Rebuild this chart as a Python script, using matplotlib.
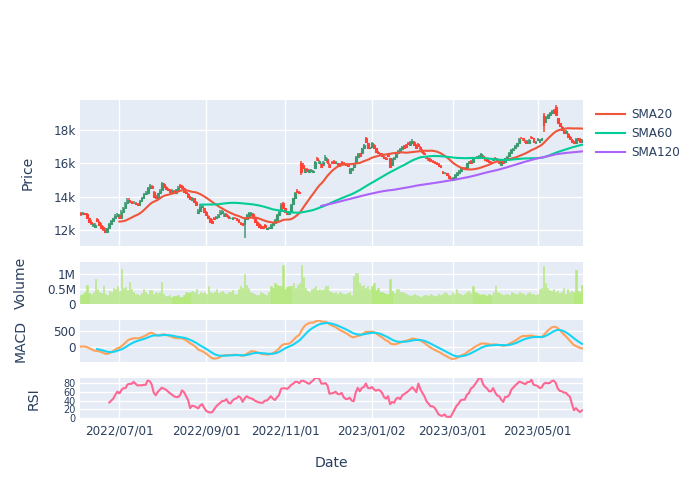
import numpy as np
import pandas as pd
import matplotlib
matplotlib.use('Agg')
import matplotlib.pyplot as plt

# ---------------- data ----------------
open_ = [
    13000,12950,13000,12950,12700,12500,12300,12200,12650,12500,
    12300,12200,12000,11900,12150,12350,12550,12700,12850,12900,
    12750,13100,13350,13600,13800,13700,13600,13650,13550,13500,
    13750,13900,14150,14250,14500,14650,14300,14000,13950,14200,
    14400,14750,14600,14450,14400,14250,14350,14250,14400,14700,
    14650,14500,14300,14150,14000,13800,13900,13700,13000,13150,
    13400,13300,13100,12850,12700,12550,12750,12700,12800,12950,
    13000,12850,12950,12850,12700,12650,12750,12700,12600,12450,
    12400,12350,12650,12800,12900,12950,12700,12500,12350,12250,
    12200,12300,12050,12100,12150,12300,12450,12600,12900,13150,
    13600,13300,13100,12950,13100,13550,13900,14350,14300,16000,
    15900,15500,15650,15500,15550,15500,15700,16300,16000,15950,
    15900,16200,16250,15950,16100,16150,16000,16000,15950,16100,
    16050,15950,15900,15450,15600,15800,16100,16400,16600,16600,
    16900,17500,17200,16900,17000,17100,16900,16700,16600,16550,
    16400,16350,16500,16300,15900,16250,16400,16600,16750,16850,
    17050,17100,17250,17100,17250,17300,17100,17150,17000,16800,
    16650,16400,16300,16250,16150,16100,16050,15950,15850,15500,
    15400,15400,15250,15100,15000,15150,15300,15450,15550,15750,
    15750,15700,16000,16150,16100,16300,16400,16350,16450,16450,
    16300,16250,16150,16100,16200,16350,16250,16150,15900,16150,
    16100,16300,16450,16650,16800,16900,17050,17250,17550,17500,
    17350,17200,17250,17600,17500,17250,17400,17300,17400,18900,
    18500,18700,18900,19000,19200,19400,18700,18400,18200,17950,
    17800,17750,17600,17400,17300,17200,17500,17450,17300]

high = [
    13100,13100,13050,13000,12750,12600,12450,12400,12750,12550,
    12400,12250,12100,12150,12400,12600,12750,12950,13000,12950,
    13200,13400,13700,13900,13900,13750,13750,13700,13600,13800,
    14000,14200,14350,14600,14750,14700,14350,14100,14250,14450,
    14900,14850,14650,14500,14450,14450,14400,14450,14650,14750,
    14700,14550,14350,14200,14050,14000,13950,13750,13250,13500,
    13550,13350,13150,12900,12750,12650,12800,12850,12950,13200,
    13200,13050,13000,12900,12800,12800,12800,12750,12650,12500,
    12450,12700,12950,13100,13100,13000,12750,12550,12400,12300,
    12250,12350,12150,12200,12350,12500,12650,12950,13150,13600,
    13700,13350,13150,13150,13550,13950,14300,14450,14350,16150,
    16000,15750,15700,15650,15650,15600,16150,16400,16200,16000,
    16150,16500,16300,16000,16150,16200,16150,16050,16000,16150,
    16100,16000,15950,15700,15750,16000,16450,16600,16650,16950,
    17150,17600,17250,17000,17300,17150,16950,16750,16650,16600,
    16450,16400,16550,16350,16300,16400,16600,16800,16900,17050,
    17100,17150,17300,17350,17450,17350,17150,17200,17050,16850,
    16700,16450,16350,16300,16200,16150,16100,16000,15900,15550,
    15500,15450,15300,15150,15200,15350,15500,15600,15800,15800,
    15800,16050,16150,16200,16350,16400,16450,16500,16600,16500,
    16350,16300,16200,16150,16350,16400,16300,16200,16150,16200,
    16350,16450,16700,16850,16900,17100,17250,17500,17600,17550,
    17400,17400,17450,17650,17550,17350,17500,17450,17550,19000,
    18850,18950,19100,19200,19250,19500,18750,18450,18250,18000,
    18000,17800,17650,17450,17350,17500,17550,17500,17450]

low = [
    12850,12900,12900,12650,12450,12300,12200,12150,12500,12250,
    12100,11950,11850,11850,12100,12300,12500,12650,12800,12650,
    12700,13050,13300,13550,13650,13550,13550,13500,13450,13450,
    13700,13850,14100,14200,14450,14450,13950,13850,13900,14150,
    14350,14550,14400,14350,14250,14200,14200,14200,14350,14550,
    14500,14250,14150,13950,13800,13750,13650,13450,12950,13100,
    13350,13050,12850,12700,12450,12400,12600,12650,12750,12900,
    12950,12800,12800,12700,12650,12600,12650,12550,12450,12300,
    12250,11550,12600,12750,12850,12700,12450,12250,12150,12100,
    12050,12150,12000,12050,12100,12250,12400,12550,12850,13100,
    13250,13050,12900,12900,13050,13500,13850,14250,14150,15300,
    15650,15450,15500,15450,15500,15450,15650,16150,15950,15750,
    15850,16150,16000,15750,16000,16000,15950,15850,15800,15950,
    15950,15850,15800,15400,15550,15750,16050,16350,16400,16550,
    16850,17250,16850,16850,16950,16850,16650,16550,16500,16400,
    16250,16200,16400,15750,15850,16200,16350,16550,16700,16800,
    16900,16950,17100,17050,17200,17050,16900,17000,16800,16600,
    16500,16250,16150,16100,16050,15950,15900,15800,15750,15350,
    15350,15250,15100,14950,14950,15100,15250,15400,15500,15650,
    15600,15650,15950,16000,16050,16250,16300,16300,16400,16250,
    16150,16100,16050,16000,16150,16200,16100,16000,15850,15950,
    16050,16250,16400,16600,16750,16850,17000,17200,17450,17350,
    17200,17150,17200,17450,17250,17200,17350,17250,17350,17900,
    18450,18650,18850,18950,19000,18850,18400,18200,17950,17800,
    17750,17550,17400,17250,17150,17150,17350,17250,17250]

close = [
    12950,13000,12950,12700,12500,12400,12350,12300,12550,12300,
    12150,12050,11900,12100,12350,12550,12700,12850,12950,12700,
    13100,13350,13600,13800,13700,13600,13650,13550,13500,13750,
    13900,14150,14250,14500,14650,14500,14000,13900,14200,14350,
    14800,14600,14450,14400,14300,14350,14250,14400,14550,14600,
    14550,14300,14200,14000,13850,13900,13700,13500,13150,13400,
    13450,13100,12900,12750,12500,12450,12650,12800,12900,13100,
    13150,12950,12850,12750,12750,12750,12700,12600,12500,12350,
    12300,12650,12900,13000,13000,12750,12500,12300,12200,12150,
    12100,12200,12100,12150,12300,12450,12600,12900,13100,13500,
    13300,13100,12950,13100,13500,13900,14200,14300,14200,15500,
    15700,15650,15550,15600,15600,15550,16100,16200,16150,15800,
    16100,16400,16050,15800,16050,16050,16100,15900,15850,16000,
    16000,15900,15850,15650,15700,15950,16400,16550,16450,16900,
    17100,17300,16900,16950,17250,16900,16700,16600,16550,16450,
    16300,16250,16450,15800,16250,16350,16550,16750,16850,17000,
    16950,17000,17150,17300,17350,17100,16950,17050,16850,16650,
    16550,16300,16200,16150,16100,16000,15950,15850,15800,15400,
    15450,15300,15150,15000,15150,15300,15450,15550,15750,15700,
    15650,16000,16100,16050,16300,16350,16350,16450,16550,16300,
    16200,16150,16100,16050,16300,16250,16150,16050,16100,16000,
    16300,16400,16650,16800,16850,17050,17200,17450,17500,17400,
    17250,17350,17400,17500,17300,17300,17450,17400,17500,18300,
    18800,18900,19050,19150,19050,18900,18450,18250,18000,17850,
    17950,17600,17450,17300,17200,17450,17400,17300,17400]

volume = [
    300000,350000,420000,650000,380000,330000,400000,850000,500000,420000,
    380000,600000,350000,300000,450000,400000,550000,500000,600000,450000,
    1170000,550000,560000,480000,750000,500000,400000,330000,350000,300000,
    380000,500000,420000,350000,480000,470000,330000,400000,380000,420000,
    750000,330000,280000,270000,300000,250000,280000,260000,300000,250000,
    230000,300000,400000,380000,420000,450000,400000,520000,350000,400000,
    380000,420000,350000,600000,400000,380000,420000,500000,360000,400000,
    450000,380000,350000,400000,420000,480000,350000,330000,500000,620000,
    550000,1000000,650000,550000,420000,380000,350000,300000,320000,400000,
    380000,330000,300000,420000,600000,550000,700000,650000,600000,600000,
    1300000,500000,560000,600000,600000,700000,550000,650000,700000,1300000,
    900000,550000,450000,420000,500000,550000,600000,480000,520000,460000,
    500000,620000,600000,450000,400000,380000,420000,350000,400000,380000,
    330000,350000,370000,400000,320000,950000,1050000,1050000,700000,600000,
    650000,550000,600000,500000,620000,700000,480000,550000,420000,400000,
    380000,350000,330000,830000,450000,380000,500000,520000,420000,400000,
    380000,330000,300000,280000,310000,350000,300000,270000,250000,260000,
    300000,320000,280000,350000,300000,260000,270000,330000,300000,350000,
    420000,380000,300000,320000,400000,350000,500000,380000,330000,300000,
    350000,400000,450000,380000,600000,420000,360000,330000,300000,330000,
    300000,280000,350000,300000,400000,600000,420000,380000,330000,310000,
    350000,330000,300000,420000,380000,330000,350000,400000,380000,350000,
    320000,380000,420000,350000,330000,300000,350000,500000,550000,1270000,
    700000,550000,480000,450000,500000,420000,430000,380000,400000,550000,
    350000,500000,420000,450000,400000,1130000,450000,420000,630000]

krx_holidays = ['2022-06-06', '2022-08-15', '2022-09-09', '2022-09-12',
                '2022-10-03', '2022-10-10', '2022-12-30', '2023-01-23',
                '2023-01-24', '2023-03-01', '2023-05-01', '2023-05-05',
                '2023-05-29', '2023-06-06']
tick_dates = ['2022-07-01', '2022-09-01', '2022-11-01', '2023-01-02',
              '2023-03-01', '2023-05-01']
tick_labels = ['2022/07/01', '2022/09/01', '2022/11/01', '2023/01/02',
               '2023/03/01', '2023/05/01']

# ---------------- derived indicators ----------------
dates = pd.bdate_range('2022-06-03', periods=len(close), freq='C',
                       holidays=krx_holidays)
df = pd.DataFrame({'open': open_, 'high': high, 'low': low,
                   'close': close, 'volume': volume}, index=dates)
df['sma20'] = df['close'].rolling(20).mean()
df['sma60'] = df['close'].rolling(60).mean()
df['sma120'] = df['close'].rolling(120).mean()
ema12 = df['close'].ewm(span=12, adjust=False).mean()
ema26 = df['close'].ewm(span=26, adjust=False).mean()
df['macd'] = ema12 - ema26
df['signal'] = df['macd'].ewm(span=9, adjust=False, min_periods=9).mean()
delta = df['close'].diff()
gain = delta.clip(lower=0).rolling(14).mean()
loss = (-delta.clip(upper=0)).rolling(14).mean()
df['rsi'] = 100 - 100 / (1 + gain / loss)

x = np.arange(len(df))
tick_pos = np.searchsorted(dates.values, pd.to_datetime(tick_dates).values)

# ---------------- styling ----------------
BG = '#E5ECF6'
TXT = '#2a3f5f'
plt.rcParams['font.family'] = ['DejaVu Sans']
plt.rcParams['text.color'] = TXT
plt.rcParams['axes.labelcolor'] = TXT
plt.rcParams['xtick.color'] = TXT
plt.rcParams['ytick.color'] = TXT

W, H = 700, 500
fig = plt.figure(figsize=(7, 5), dpi=100)


def add_ax(top, bottom, left=80, right=583):
    return fig.add_axes([left / W, 1 - bottom / H, (right - left) / W,
                         (bottom - top) / H])


ax_p = add_ax(100, 246)
ax_v = add_ax(262, 304.3)
ax_m = add_ax(320, 362.3)
ax_r = add_ax(378.3, 418.5)

for ax in (ax_p, ax_v, ax_m, ax_r):
    ax.set_facecolor(BG)
    for s in ax.spines.values():
        s.set_visible(False)
    ax.grid(True, color='white', linewidth=1)
    ax.set_axisbelow(True)
    ax.tick_params(length=0, labelsize=8.64, pad=3)
    ax.set_xlim(-0.5, len(df) - 0.5)
    ax.set_xticks(tick_pos)
    ax.set_xticklabels([])

# candlesticks
up = df['close'].values >= df['open'].values
colors = np.where(up, '#3D9970', '#FF4136')
ax_p.vlines(x, df['low'], df['high'], colors=colors, linewidth=1.1, zorder=2)
body_bottom = np.minimum(df['open'].values, df['close'].values)
body_h = np.abs(df['close'].values - df['open'].values)
ax_p.bar(x, body_h, bottom=body_bottom, width=0.85, color=colors,
         edgecolor=colors, linewidth=0.8, zorder=3)
l20, = ax_p.plot(x, df['sma20'], color='#EF553B', lw=1.5, label='SMA20', zorder=4)
l60, = ax_p.plot(x, df['sma60'], color='#00CC96', lw=1.5, label='SMA60', zorder=4)
l120, = ax_p.plot(x, df['sma120'], color='#AB63FA', lw=1.5, label='SMA120', zorder=4)
ax_p.set_ylim(11050, 19800)
ax_p.set_yticks([12000, 14000, 16000, 18000])
ax_p.set_yticklabels(['12k', '14k', '16k', '18k'])

# volume
ax_v.bar(x, df['volume'], width=0.6, color='#B6E880', edgecolor='#B6E880',
         linewidth=0.4, zorder=2)
ax_v.set_ylim(0, 1.4e6)
ax_v.set_yticks([0, 5e5, 1e6])
ax_v.set_yticklabels(['0', '0.5M', '1M'])

# MACD
ax_m.plot(x, df['macd'], color='#FFA15A', lw=1.5, zorder=3)
ax_m.plot(x, df['signal'], color='#19D3F3', lw=1.5, zorder=3)
ax_m.set_ylim(-500, 850)
ax_m.set_yticks([0, 500])
ax_m.set_yticklabels(['0', '500'])

# RSI
ax_r.plot(x, df['rsi'], color='#FF6692', lw=1.5, zorder=3)
ax_r.set_ylim(-1, 91)
ax_r.set_yticks([0, 20, 40, 60, 80])
ax_r.tick_params(axis='y', labelsize=7)
ax_r.set_xticklabels(tick_labels)
ax_r.tick_params(axis='x', pad=4)

# axis titles
for ax, lab, xpx in ((ax_p, 'Price', 28), (ax_v, 'Volume', 21),
                     (ax_m, 'MACD', 21), (ax_r, 'RSI', 34)):
    ax.set_ylabel(lab, fontsize=10.08)
    ax.yaxis.set_label_coords((xpx - 80) / 503, 0.5)
    ax.yaxis.label.set_verticalalignment('center')

ax_r.set_xlabel('Date', fontsize=10.08)
ax_r.xaxis.set_label_coords(0.5, -(463 - 418.5) / 40.2)
ax_r.xaxis.label.set_verticalalignment('center')

fig.legend(handles=[l20, l60, l120], loc='upper left',
           bbox_to_anchor=(596 / W, 1 - 108 / H), frameon=False,
           fontsize=8.64, handlelength=2.45, handletextpad=0.45,
           labelspacing=0.5, borderaxespad=0, borderpad=0)

fig.savefig('out.png', dpi=100, facecolor='white')
